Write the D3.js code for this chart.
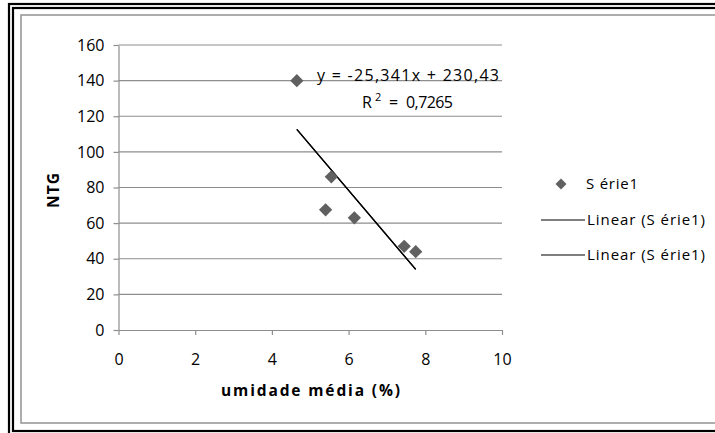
<!DOCTYPE html>
<html>
<head>
<meta charset="utf-8">
<script src="https://cdn.jsdelivr.net/npm/d3@7"></script>
<style>
  html, body { margin: 0; padding: 0; background: #fff; }
  svg { display: block; }
  text { font-family: "Open Sans", Lato, sans-serif; fill: #000; }
</style>
</head>
<body>
<svg id="chart" width="715" height="433"></svg>
<script>
// ---- data ----
const xValues = [4.65, 5.55, 5.4, 6.15, 7.45, 7.75];
const yValues = [140, 86, 67.5, 63, 47, 44];
const trendSlope = -25.341;
const trendIntercept = 230.43;
const xTicks = [0, 2, 4, 6, 8, 10];
const yTicks = [0, 20, 40, 60, 80, 100, 120, 140, 160];
const equationLabel = "y = -25,341x + 230,43";
const r2Label = "0,7265";
const seriesName = "S érie1";
const trendNames = ["Linear (S érie1)", "Linear (S érie1)"];
const xTitle = "umidade média (%)";
const yTitle = "NTG";

// ---- layout ----
const svg = d3.select("#chart");
const x = d3.scaleLinear().domain([0, 10]).range([118.5, 502]);
const y = d3.scaleLinear().domain([0, 160]).range([330, 45]);
const gridColor = "#8e8e8e";
const markerColor = "#606060";

// frame (double black border + gray chart border)
svg.append("rect").attr("x", 9).attr("y", 4).attr("width", 720).attr("height", 440)
  .attr("fill", "none").attr("stroke", "#000").attr("stroke-width", 2.2);
svg.append("rect").attr("x", 13).attr("y", 8).attr("width", 720).attr("height", 423)
  .attr("fill", "none").attr("stroke", "#000").attr("stroke-width", 2.2);
svg.append("rect").attr("x", 21).attr("y", 15).attr("width", 720).attr("height", 408)
  .attr("fill", "none").attr("stroke", "#999").attr("stroke-width", 1.6);

// gridlines
svg.append("g").selectAll("line").data(yTicks.filter(d => d > 0)).join("line")
  .attr("x1", x(0)).attr("x2", x(10))
  .attr("y1", d => y(d)).attr("y2", d => y(d))
  .attr("stroke", gridColor).attr("stroke-width", 1.2);

// axes
const yAxis = svg.append("g").attr("transform", `translate(${x(0)},0)`)
  .call(d3.axisLeft(y).tickValues(yTicks).tickSize(5).tickSizeOuter(0).tickPadding(9));
const xAxis = svg.append("g").attr("transform", `translate(0,${y(0)})`)
  .call(d3.axisBottom(x).tickValues(xTicks).tickSize(5).tickSizeOuter(0).tickPadding(19));
[yAxis, xAxis].forEach(g => {
  g.select(".domain").attr("stroke", gridColor).attr("stroke-width", 1.2);
  g.selectAll(".tick line").attr("stroke", gridColor).attr("stroke-width", 1.2);
  g.selectAll(".tick text")
    .style("font-family", '"Open Sans", sans-serif')
    .style("font-size", "16px")
    .style("fill", "#000");
});

// trend lines (two identical linear fits)
const xMin = d3.min(xValues), xMax = d3.max(xValues);
trendNames.forEach(() => {
  svg.append("line")
    .attr("x1", x(xMin)).attr("y1", y(trendSlope * xMin + trendIntercept))
    .attr("x2", x(xMax)).attr("y2", y(trendSlope * xMax + trendIntercept))
    .attr("stroke", "#000").attr("stroke-width", 1.3);
});

// markers
svg.append("g").selectAll("path").data(xValues.map((v, i) => [v, yValues[i]])).join("path")
  .attr("transform", d => `translate(${x(d[0])},${y(d[1])}) rotate(45)`)
  .attr("d", d3.symbol().type(d3.symbolSquare).size(88))
  .attr("fill", markerColor);

// equation labels
svg.append("text").attr("x", 317).attr("y", 81).style("font-size", "16px")
  .attr("textLength", 182).attr("lengthAdjust", "spacing").text(equationLabel);
const r2 = svg.append("g").style("font-size", "16px");
r2.append("text").attr("x", 362).attr("y", 108).text("R");
r2.append("text").attr("x", 375).attr("y", 101).style("font-size", "11px").text("2");
r2.append("text").attr("x", 389).attr("y", 108).text("=");
r2.append("text").attr("x", 406).attr("y", 108)
  .attr("textLength", 47).attr("lengthAdjust", "spacing").text(r2Label);

// axis titles
svg.append("text").attr("transform", "translate(59,190) rotate(-90)")
  .attr("text-anchor", "middle").attr("font-weight", "bold").style("font-size", "15.5px")
  .attr("letter-spacing", 1).text(yTitle);
svg.append("text").attr("x", 221).attr("y", 396)
  .attr("font-weight", "bold").style("font-size", "15.5px")
  .attr("textLength", 179).attr("lengthAdjust", "spacing").text(xTitle);

// legend
const lg = svg.append("g").style("font-size", "15px");
lg.append("path").attr("transform", "translate(561,184) rotate(45)")
  .attr("d", d3.symbol().type(d3.symbolSquare).size(60)).attr("fill", markerColor);
lg.append("text").attr("x", 586).attr("y", 189)
  .attr("textLength", 52).attr("lengthAdjust", "spacing").text(seriesName);
trendNames.forEach((name, i) => {
  const yy = 220 + i * 35;
  lg.append("line").attr("x1", 541).attr("x2", 585).attr("y1", yy).attr("y2", yy)
    .attr("stroke", "#000").attr("stroke-width", 1.2);
  lg.append("text").attr("x", 587).attr("y", yy + 5)
    .attr("textLength", 118).attr("lengthAdjust", "spacing").text(name);
});
</script>
</body>
</html>
